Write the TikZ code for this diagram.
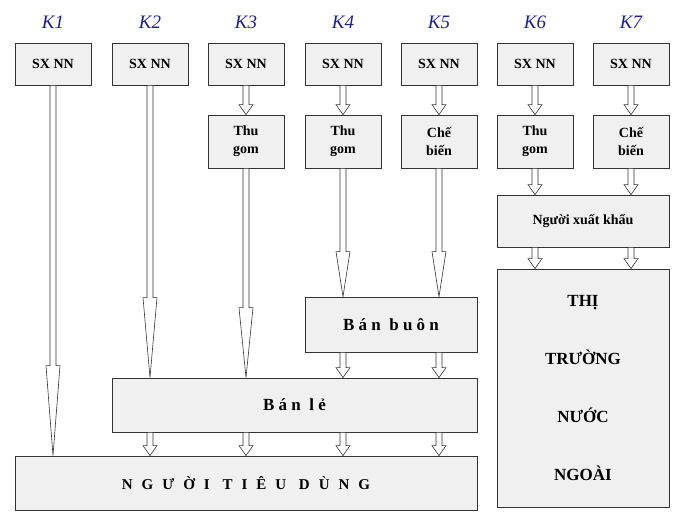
\documentclass[tikz,border=0pt]{standalone}
\usepackage{fontspec}
\setmainfont{Liberation Serif}
\usetikzlibrary{calc}
\definecolor{kblue}{RGB}{30,30,150}
\newcommand\barw[3]{%
  \path let \p1=(#1), \p2=(#2) in
  [draw=black!80,fill=white,line width=0.6pt]
  (\x1-3pt,\y1) -- (\x1-3pt,\y2+#3pt) -- (\x1-7pt,\y2+#3pt) -- (\x1,\y2) --
  (\x1+7pt,\y2+#3pt) -- (\x1+3pt,\y2+#3pt) -- (\x1+3pt,\y1) -- cycle;}
\begin{document}
\begin{tikzpicture}[x=1pt,y=-1pt,
  bx/.style={draw=black!80,line width=0.8pt,fill=black!6,font=\bfseries\fontsize{14}{18}\selectfont,align=center,inner sep=0pt},
  kl/.style={font=\itshape\fontsize{19}{20}\selectfont,text=kblue}]
\useasboundingbox (0,0) rectangle (681,517);
\foreach \i/\c in {1/53,2/150,3/246,4/343,5/439,6/535,7/631}{
  \node[kl] (k\i) at (\c,22) {K\i};
  \node[bx,minimum width=76pt,minimum height=42pt] (s\i) at (\c,64) {SX NN};
}
\foreach \i/\t in {3/{Thu\\gom},4/{Thu\\gom},5/{Chế\\biến},6/{Thu\\gom},7/{Chế\\biến}}{
  \node[bx,minimum width=76pt,minimum height=53pt] (m\i) at ($(s\i)+(0,77.5)$) {\t};
}
\node[bx,minimum width=172pt,minimum height=52pt] (xk) at (583,221) {Người xuất khẩu};
\node[bx,minimum width=172pt,minimum height=55pt,font=\bfseries\fontsize{17}{20}\selectfont\addfontfeature{LetterSpace=25}] (bb) at (391,324.5) {Bán buôn};
\node[bx,minimum width=365pt,minimum height=54pt,font=\bfseries\fontsize{17}{20}\selectfont\addfontfeature{LetterSpace=25}] (bl) at (294.5,405) {Bán lẻ};
\node[bx,minimum width=462pt,minimum height=54pt,font=\bfseries\fontsize{15}{18}\selectfont\addfontfeature{LetterSpace=60}] (nd) at (246,483) {NGƯỜI TIÊU DÙNG};
\node[bx,minimum width=172pt,minimum height=238pt,font=\bfseries\fontsize{17}{20}\selectfont,align=center] (tt) at (583,388) {THỊ\\[38pt]TRƯỜNG\\[38pt]NƯỚC\\[38pt]NGOÀI};
% arrows
\barw{s1.south}{s1.south |- nd.north}{90}
\barw{s2.south}{s2.south |- bl.north}{80}
\barw{m3.south}{m3.south |- bl.north}{70}
\barw{m4.south}{m4.south |- bb.north}{45}
\barw{m5.south}{m5.south |- bb.north}{45}
\foreach \i in {3,4,5,6,7}{\barw{s\i.south}{m\i.north}{10}}
\barw{m6.south}{m6.south |- xk.north}{10}
\barw{m7.south}{m7.south |- xk.north}{10}
\barw{m6.south |- xk.south}{m6.south |- tt.north}{10}
\barw{m7.south |- xk.south}{m7.south |- tt.north}{10}
\barw{m4.south |- bb.south}{m4.south |- bl.north}{10}
\barw{m5.south |- bb.south}{m5.south |- bl.north}{10}
\foreach \i in {2,3}{\barw{s\i.south |- bl.south}{s\i.south |- nd.north}{10}}
\foreach \i in {4,5}{\barw{m\i.south |- bl.south}{m\i.south |- nd.north}{10}}
\end{tikzpicture}
\end{document}
